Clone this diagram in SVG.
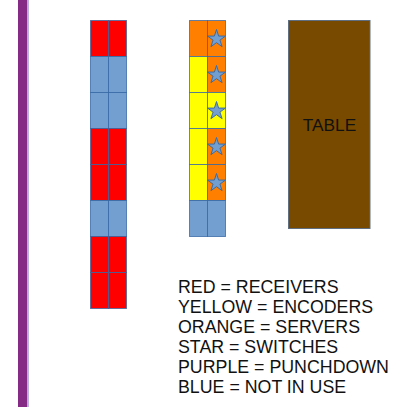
<svg xmlns="http://www.w3.org/2000/svg" width="410" height="407" viewBox="0 0 410 407">
<style>
.c{stroke:#3465a4;stroke-width:1;stroke-opacity:0.75}
.r{fill:#ff0000}
.b{fill:#729fcf}
.o{fill:#ff8000}
.y{fill:#ffff00}
.st{fill:#729fcf;stroke:#3465a4;stroke-width:0.9}
.t{font-family:"Liberation Sans",Arial,sans-serif;font-size:17.8px;fill:#111111}
</style>
<defs>
<path id="star" d="M0,-9.5 L2.134,-2.937 L9.035,-2.936 L3.452,1.122 L5.584,7.686 L0,3.63 L-5.584,7.686 L-3.452,1.122 L-9.035,-2.936 L-2.134,-2.937 Z"/>
</defs>
<rect width="410" height="407" fill="#ffffff"/>
<g id="punchdown">
<rect x="18" y="0" width="9.5" height="407" fill="#852a85"/>
<line x1="28.2" y1="0" x2="28.2" y2="407" stroke="#bcb4e0" stroke-width="1.6"/>
</g>
<g id="rack1">
<rect class="c r" x="90.5" y="20.5" width="18" height="36"/><rect class="c r" x="108.5" y="20.5" width="18" height="36"/>
<rect class="c b" x="90.5" y="56.5" width="18" height="36"/><rect class="c b" x="108.5" y="56.5" width="18" height="36"/>
<rect class="c b" x="90.5" y="92.5" width="18" height="36"/><rect class="c b" x="108.5" y="92.5" width="18" height="36"/>
<rect class="c r" x="90.5" y="128.5" width="18" height="36"/><rect class="c r" x="108.5" y="128.5" width="18" height="36"/>
<rect class="c r" x="90.5" y="164.5" width="18" height="36"/><rect class="c r" x="108.5" y="164.5" width="18" height="36"/>
<rect class="c b" x="90.5" y="200.5" width="18" height="36"/><rect class="c b" x="108.5" y="200.5" width="18" height="36"/>
<rect class="c r" x="90.5" y="236.5" width="18" height="36"/><rect class="c r" x="108.5" y="236.5" width="18" height="36"/>
<rect class="c r" x="90.5" y="272.5" width="18" height="36"/><rect class="c r" x="108.5" y="272.5" width="18" height="36"/>
</g>
<g id="rack2">
<rect class="c o" x="189.5" y="20.5" width="18" height="36"/><rect class="c o" x="207.5" y="20.5" width="18" height="36"/>
<rect class="c y" x="189.5" y="56.5" width="18" height="36"/><rect class="c o" x="207.5" y="56.5" width="18" height="36"/>
<rect class="c y" x="189.5" y="92.5" width="18" height="36"/><rect class="c y" x="207.5" y="92.5" width="18" height="36"/>
<rect class="c y" x="189.5" y="128.5" width="18" height="36"/><rect class="c o" x="207.5" y="128.5" width="18" height="36"/>
<rect class="c y" x="189.5" y="164.5" width="18" height="36"/><rect class="c o" x="207.5" y="164.5" width="18" height="36"/>
<rect class="c b" x="189.5" y="200.5" width="18" height="36"/><rect class="c b" x="207.5" y="200.5" width="18" height="36"/>
<use href="#star" class="st" x="216.5" y="39"/>
<use href="#star" class="st" x="216.5" y="75"/>
<use href="#star" class="st" x="216.5" y="111"/>
<use href="#star" class="st" x="216.5" y="147"/>
<use href="#star" class="st" x="216.5" y="183"/>
</g>
<g id="table">
<rect x="288.5" y="20.5" width="81.5" height="208" fill="#784a00" stroke="#5f6e80" stroke-width="1"/>
<text class="t" x="329.5" y="130.5" text-anchor="middle" style="font-size:17.3px" fill="#1a1a1a">TABLE</text>
</g>
<g id="legend">
<text class="t" x="178" y="293">RED = RECEIVERS</text>
<text class="t" x="178" y="313">YELLOW = ENCODERS</text>
<text class="t" x="178" y="333">ORANGE = SERVERS</text>
<text class="t" x="178" y="353">STAR = SWITCHES</text>
<text class="t" x="178" y="373">PURPLE = PUNCHDOWN</text>
<text class="t" x="178" y="393">BLUE = NOT IN USE</text>
</g>
</svg>
